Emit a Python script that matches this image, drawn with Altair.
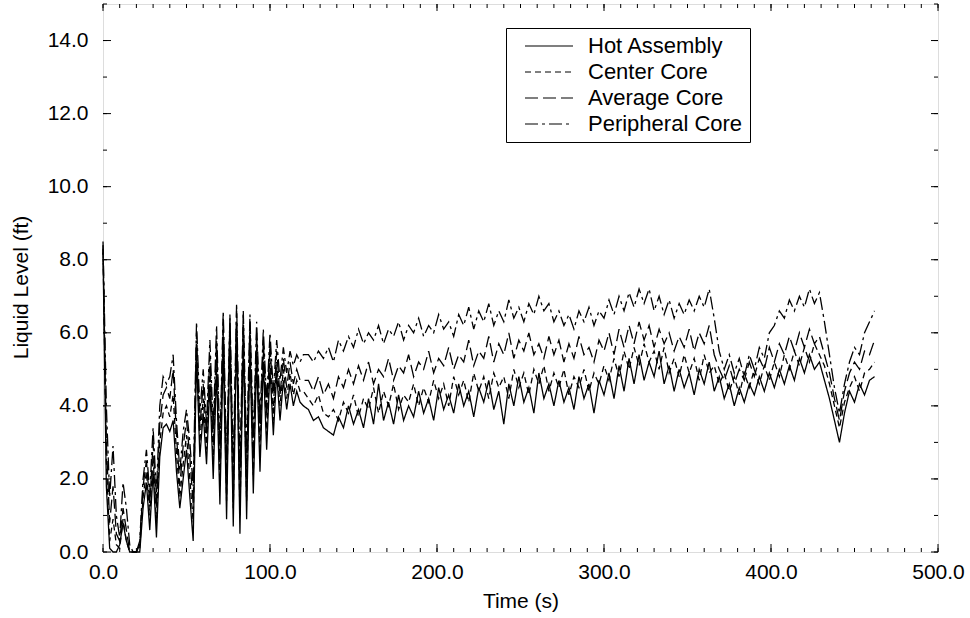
import altair as alt
import pandas as pd

# ---------------- data ----------------
time_s = list(range(0, 121, 2)) + list(range(123, 463, 3))

series_names = ["Hot Assembly", "Center Core", "Average Core", "Peripheral Core"]

hot_early = [
    8.2, 1.8, 0.1, 0.0, 0.0, 0.2, 0.8, 0.3, 0.0, 0.0,
    0.0, 0.0, 1.2, 1.9, 0.6, 2.2, 0.4, 2.6, 3.4, 3.5,
    3.3, 3.6, 2.2, 1.2, 2.0, 2.8, 1.5, 0.3, 5.4, 2.6,
    3.8, 2.4, 4.6, 2.0, 5.0, 1.3, 5.6, 0.9, 5.9, 0.7,
    6.0, 0.5, 5.8, 0.9, 5.6, 1.6, 5.3, 2.2, 5.2, 2.8,
    5.0, 3.2, 4.9, 3.6, 4.7, 3.9, 4.6, 4.0, 4.4, 4.1,
    4.0,
]
hot_late = [
    3.9, 3.6, 3.7, 3.4, 3.3, 3.2, 3.7, 3.4, 4.0, 3.5,
    3.9, 3.4, 4.2, 3.5, 4.6, 3.6, 4.1, 3.5, 4.3, 3.6,
    4.0, 3.7, 4.4, 3.8, 4.2, 3.6, 4.5, 3.9, 4.3, 3.8,
    4.6, 4.0, 4.4, 3.7, 4.5, 4.1, 4.7, 3.9, 4.4, 3.5,
    4.6, 4.0, 4.8, 4.1, 4.5, 3.8, 4.9, 4.2, 4.6, 4.0,
    4.7, 4.1, 4.5, 3.9, 4.8, 4.2, 4.6, 3.8, 4.7, 4.3,
    4.9, 4.2, 5.1, 4.4, 5.3, 4.6, 5.4, 4.7, 5.2, 4.8,
    5.5, 4.6, 5.1, 4.4, 5.0, 4.5, 4.9, 4.3, 5.0, 4.6,
    5.2, 4.4, 4.8, 4.2, 4.6, 4.0, 4.5, 4.1, 4.6, 4.3,
    4.8, 4.4, 4.9, 4.5, 5.0, 4.6, 5.1, 4.7, 5.3, 4.9,
    5.4, 5.0, 5.2, 4.7, 4.2, 3.6, 3.0, 3.8, 4.4, 4.1,
    4.6, 4.3, 4.7, 4.8,
]

center_early = [
    8.3, 2.5, 0.3, 0.9, 0.2, 0.1, 0.9, 0.3, 0.0, 0.0,
    0.0, 0.1, 1.5, 2.2, 1.0, 2.6, 0.8, 3.0, 3.8, 4.0,
    3.7, 4.3, 2.7, 1.5, 2.4, 3.2, 2.0, 0.8, 5.7, 3.0,
    4.2, 2.8, 5.0, 2.5, 5.4, 1.8, 6.0, 1.4, 6.2, 1.2,
    6.3, 1.0, 6.1, 1.4, 5.9, 2.1, 5.6, 2.7, 5.5, 3.2,
    5.3, 3.6, 5.2, 4.0, 5.0, 4.2, 4.9, 4.3, 4.7, 4.4,
    4.4,
]
center_late = [
    4.2, 4.0, 4.3, 3.8, 3.7, 3.9, 3.6, 4.1, 3.8, 4.3,
    3.7, 4.2, 3.9, 4.5, 3.8, 4.4, 4.0, 4.6, 3.9, 4.3,
    4.1, 4.6, 4.0, 4.5, 4.1, 4.7, 4.2, 4.6, 4.0, 4.8,
    4.3, 4.7, 4.1, 4.9, 4.4, 4.8, 4.2, 4.9, 4.5, 4.8,
    4.2, 5.0, 4.5, 4.9, 4.3, 5.0, 4.6, 5.1, 4.4, 4.9,
    4.5, 5.0, 4.3, 4.8, 4.5, 5.0, 4.4, 4.9, 4.6, 5.1,
    4.7, 5.3, 4.8, 5.5, 5.0, 5.6, 5.1, 5.7, 5.2, 5.5,
    5.0, 5.6, 4.9, 5.3, 4.8, 5.4, 4.9, 5.3, 4.7, 5.4,
    4.9, 5.1, 4.6, 4.9, 4.4, 4.8, 4.3, 4.9, 4.5, 5.0,
    4.6, 5.1, 4.7, 5.2, 4.8, 5.4, 5.0, 5.5, 5.1, 5.6,
    5.2, 5.7, 5.4, 5.1, 4.6, 4.0, 3.4, 4.1, 4.5, 4.8,
    4.4, 4.9, 5.0, 5.2,
]

average_early = [
    8.4, 3.0, 0.8, 1.8, 0.5, 0.3, 1.2, 0.6, 0.0, 0.0,
    0.0, 0.2, 1.8, 2.5, 1.3, 3.0, 1.2, 3.5, 4.3, 4.5,
    4.2, 5.0, 3.2, 1.8, 2.9, 3.6, 2.6, 1.3, 6.0, 3.4,
    4.6, 3.2, 5.4, 3.0, 5.8, 2.4, 6.4, 2.0, 6.5, 1.8,
    6.6, 1.6, 6.5, 2.0, 6.3, 2.6, 6.0, 3.2, 5.8, 3.7,
    5.7, 4.0, 5.5, 4.3, 5.3, 4.5, 5.2, 4.6, 5.0, 4.7,
    4.7,
]
average_late = [
    4.7, 4.4, 4.8, 4.3, 4.6, 4.2, 4.8, 4.5, 5.0, 4.6,
    5.1, 4.7, 5.2, 4.6, 5.0, 4.8, 5.3, 4.7, 5.1, 4.9,
    5.4, 4.8, 5.2, 5.0, 5.5, 4.9, 5.3, 5.1, 5.6, 5.0,
    5.4, 5.2, 5.8, 5.1, 5.5, 5.3, 5.9, 5.2, 5.7, 5.4,
    6.0, 5.3, 5.8, 5.5, 6.0, 5.4, 5.7, 5.3, 5.9, 5.4,
    5.8, 5.2, 5.7, 5.3, 5.9, 5.4, 5.6, 5.2, 5.8, 5.5,
    6.0, 5.4, 6.1, 5.6, 6.2, 5.7, 6.3, 5.8, 6.2, 5.6,
    6.1, 5.7, 6.0, 5.5, 5.9, 5.6, 6.1, 5.5, 6.0, 5.7,
    6.2, 5.4, 5.0, 4.7, 5.1, 4.6, 5.0, 4.7, 5.2, 4.8,
    5.3, 5.0, 5.6, 5.2, 5.7, 5.4, 5.9, 5.5, 6.0, 5.6,
    6.1, 5.7, 5.9, 5.4, 4.9, 4.2, 3.6, 4.4, 4.9, 5.2,
    5.0, 5.5, 5.4, 5.8,
]

peripheral_early = [
    8.5, 4.0, 1.5, 2.9, 1.0, 0.4, 1.9, 1.2, 0.2, 0.0,
    0.0, 0.3, 2.0, 2.8, 1.6, 3.4, 1.6, 4.0, 4.8, 4.6,
    4.8, 5.4, 3.6, 2.2, 3.3, 3.9, 3.0, 1.8, 6.3, 3.8,
    5.0, 3.5, 5.8, 3.4, 6.2, 2.9, 6.6, 2.5, 6.4, 2.4,
    6.8, 2.3, 6.6, 2.7, 6.5, 3.1, 6.3, 3.6, 6.1, 4.1,
    6.0, 4.4, 5.8, 4.7, 5.6, 4.9, 5.5, 5.1, 5.4, 5.2,
    5.4,
]
peripheral_late = [
    5.4, 5.2, 5.5, 5.3, 5.6, 5.2, 5.8, 5.5, 5.9, 5.6,
    6.1, 5.7, 6.0, 5.8, 6.2, 5.7, 6.1, 5.9, 6.3, 5.8,
    6.2, 6.0, 6.4, 5.9, 6.2, 6.0, 6.5, 6.1, 6.3, 5.9,
    6.5, 6.2, 6.7, 6.1, 6.6, 6.3, 6.8, 6.2, 6.6, 6.3,
    6.9, 6.4, 6.7, 6.3, 6.8, 6.5, 7.0, 6.6, 6.8, 6.3,
    6.6, 6.2, 6.5, 6.1, 6.6, 6.3, 6.7, 6.2, 6.6, 6.4,
    6.9, 6.5, 7.0, 6.6, 7.1, 6.7, 7.2, 6.8, 7.2, 6.6,
    7.0, 6.5, 6.9, 6.4, 6.8, 6.5, 6.9, 6.6, 7.0, 6.7,
    7.2, 6.4, 5.5, 5.0, 5.4, 4.9, 5.3, 4.8, 5.4, 5.0,
    5.6, 5.3, 6.0, 6.2, 6.6, 6.4, 6.9, 6.6, 7.0, 6.7,
    7.2, 6.8, 7.1, 6.3, 5.4, 4.5, 3.8, 4.6, 5.2, 5.6,
    5.4, 6.0, 6.3, 6.6,
]

x_tick_labels = [0, 100, 200, 300, 400, 500]
y_tick_labels = [0, 2, 4, 6, 8, 10, 12, 14]
x_minor = list(range(0, 501, 10))
y_minor = list(range(0, 16, 1))

# ---------------- build table ----------------
all_series = [
    hot_early + hot_late,
    center_early + center_late,
    average_early + average_late,
    peripheral_early + peripheral_late,
]
rows = []
for name, vals in zip(series_names, all_series):
    for t, v in zip(time_s, vals):
        rows.append({"time": t, "level": v, "series": name})
df = pd.DataFrame(rows)

W, H = 835, 548
FONT = "Liberation Sans"
dash_patterns = [[1, 0], [6, 4], [13, 5], [13, 4, 3, 4]]

xscale = alt.Scale(domain=[0, 500], nice=False, zero=False)
yscale = alt.Scale(domain=[0, 15], nice=False, zero=False)

xaxis = alt.Axis(values=x_tick_labels, format=".1f", ticks=False, domain=False,
                 grid=False, labelFont=FONT, labelFontSize=21, labelColor="black",
                 labelPadding=9, labelFlush=False, title="Time (s)",
                 titleFont=FONT, titleFontSize=21, titleFontWeight="normal",
                 titleColor="black", titleY=55, titleBaseline="alphabetic")
yaxis = alt.Axis(values=y_tick_labels, format=".1f", ticks=False, domain=False,
                 grid=False, labelFont=FONT, labelFontSize=21, labelColor="black",
                 labelPadding=15, labelFlush=False, title="Liquid Level (ft)",
                 titleFont=FONT, titleFontSize=21, titleFontWeight="normal",
                 titleColor="black", titleX=-76, titleY=283, titleAngle=270,
                 titleAlign="center", titleBaseline="alphabetic")

lines = alt.Chart(df).mark_line(color="black", strokeWidth=1.3).encode(
    x=alt.X("time:Q", scale=xscale, axis=xaxis),
    y=alt.Y("level:Q", scale=yscale, axis=yaxis),
    strokeDash=alt.StrokeDash(
        "series:N",
        scale=alt.Scale(domain=series_names, range=dash_patterns),
        sort=series_names,
        legend=alt.Legend(title=None, orient="none", legendX=403, legendY=24,
                          symbolType="M-3,0H3", symbolSize=256, symbolStrokeWidth=1.2,
                          symbolStrokeColor="black", symbolFillColor="transparent",
                          labelFont=FONT, labelFontSize=22,
                          labelColor="black", labelOffset=28, labelLimit=400,
                          strokeColor="black", fillColor="white", padding=7,
                          rowPadding=4, symbolOffset=25),
    ),
)

xt = pd.DataFrame({"v": x_minor})
xT = pd.DataFrame({"v": x_tick_labels})
yt = pd.DataFrame({"v": y_minor})
yT = pd.DataFrame({"v": y_tick_labels})


def xrule(d, y0, y1):
    return alt.Chart(d).mark_rule(color="black", strokeWidth=1).encode(
        x=alt.X("v:Q", scale=xscale, axis=xaxis), y=alt.value(y0), y2=alt.value(y1))


def yrule(d, x0, x1):
    return alt.Chart(d).mark_rule(color="black", strokeWidth=1).encode(
        y=alt.Y("v:Q", scale=yscale, axis=yaxis), x=alt.value(x0), x2=alt.value(x1))


ticks = [
    xrule(xt, H, H - 4), xrule(xT, H, H - 8),
    xrule(xt, 0, 4), xrule(xT, 0, 7),
    yrule(yt, 0, 4), yrule(yT, 0, 8),
    yrule(yt, W, W - 4), yrule(yT, W, W - 7),
]

chart = alt.layer(lines, *ticks).properties(
    width=W, height=H,
    autosize=alt.AutoSizeParams(type="none"),
    padding={"left": 103, "top": 4, "right": 32, "bottom": 66},
).configure_view(stroke="black", strokeWidth=1.3).configure(background="white")

chart.save("out.html", embed_options={"renderer": "svg", "actions": False})
